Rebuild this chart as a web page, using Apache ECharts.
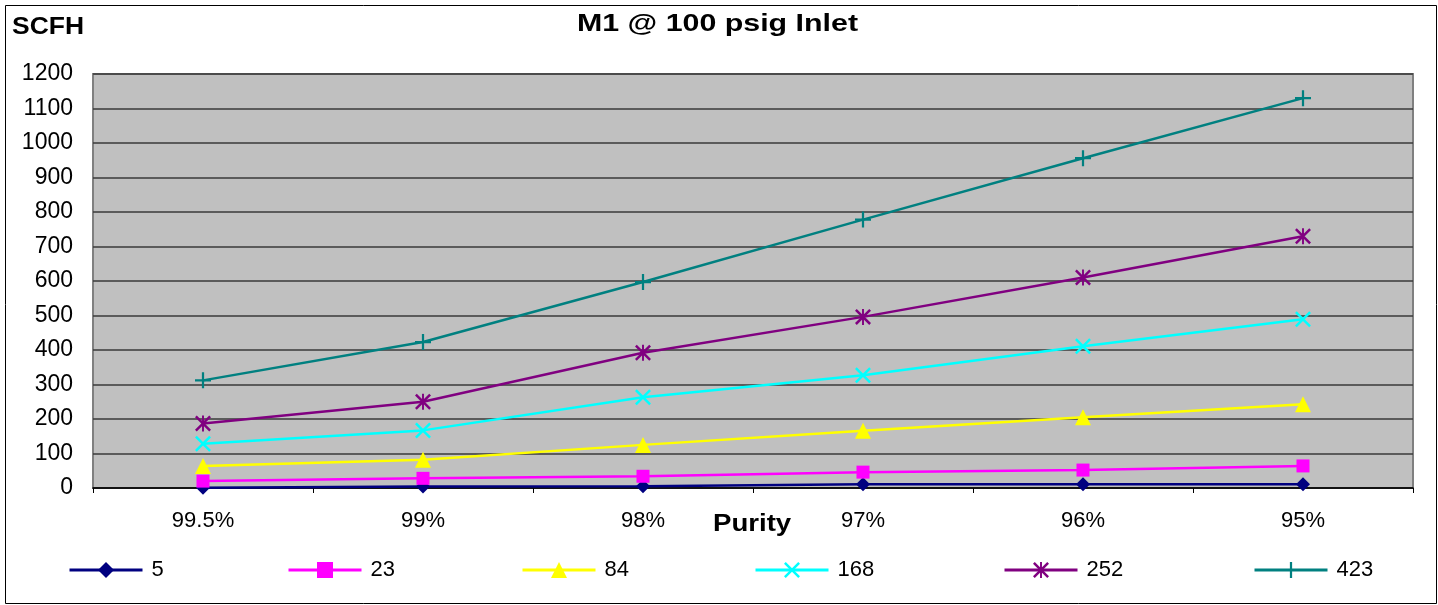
<!DOCTYPE html>
<html>
<head>
<meta charset="utf-8">
<script src="https://cdn.jsdelivr.net/npm/echarts@6/dist/echarts.min.js"></script>
<style>
html,body{margin:0;padding:0;background:#fff;}
#chart{width:1438px;height:605px;}
</style>
</head>
<body>
<div id="chart"></div>
<script>
const categories = ['99.5%', '99%', '98%', '97%', '96%', '95%'];
const seriesNames = ['5', '23', '84', '168', '252', '423'];
const s5   = [1, 4, 5, 11, 11, 11];
const s23  = [20, 28, 34, 46, 52, 64];
const s84  = [64, 82, 125, 166, 205, 243];
const s168 = [128, 167, 263, 327, 411, 489];
const s252 = [187, 250, 392, 496, 610, 730];
const s423 = [312, 423, 597, 778, 956, 1130];
const yTicks = {min: 0, max: 1200, interval: 100};

const seriesData = [s5, s23, s84, s168, s252, s423];
const colors = ['#000080', '#FF00FF', '#FFFF00', '#00FFFF', '#800080', '#008080'];
const X_PATH = 'M0,1.1 L1.1,0 L10,8.9 L8.9,10 Z M8.9,0 L10,1.1 L1.1,10 L0,8.9 Z';
const PLUS_PATH = 'M0,4.3 H10 V5.7 H0 Z M4.3,0 H5.7 V10 H4.3 Z';
const STAR_PATH = X_PATH + ' M4.4,0 H5.6 V10 H4.4 Z';
const symbols = ['diamond', 'rect', 'triangle', 'path://' + X_PATH, 'path://' + STAR_PATH, 'path://' + PLUS_PATH];
const symbolSizes = [14, 13, 16, 16, 16, 16];
const legendLefts = [68, 287, 521, 754, 1003, 1253];
const FONT = '"Liberation Sans", Arial, sans-serif';

const chart = echarts.init(document.getElementById('chart'));
chart.setOption({
  animation: false,
  backgroundColor: '#ffffff',
  textStyle: {fontFamily: FONT},
  grid: {
    left: 93, right: 25, top: 74, bottom: 117,
    show: true, backgroundColor: '#C0C0C0', borderColor: '#808080', borderWidth: 2
  },
  legend: seriesNames.map((n, i) => ({
    data: [n],
    left: legendLefts[i],
    top: 559,
    padding: 0,
    itemWidth: 73,
    itemHeight: 20,
    itemGap: 0,
    lineStyle: {width: 3},
    textStyle: {fontFamily: FONT, fontSize: 22, color: '#000', padding: [0, 0, 0, 4]}
  })),
  xAxis: {
    type: 'category',
    data: categories,
    boundaryGap: true,
    axisLine: {show: true, lineStyle: {color: '#000', width: 1.5}},
    axisTick: {show: true, length: 5, lineStyle: {color: '#000'}},
    axisLabel: {fontFamily: FONT, fontSize: 22, color: '#000', margin: 22},
    splitLine: {show: false}
  },
  yAxis: {
    type: 'value',
    min: yTicks.min, max: yTicks.max, interval: yTicks.interval,
    axisLine: {show: false},
    axisTick: {show: false},
    axisLabel: {fontFamily: FONT, fontSize: 23, color: '#000', margin: 20, formatter: v => String(v)},
    splitLine: {show: true, lineStyle: {color: '#3a3a3a', width: 1.5}}
  },
  series: seriesNames.map((n, i) => ({
    name: n,
    type: 'line',
    data: seriesData[i],
    symbol: symbols[i],
    symbolSize: symbolSizes[i],
    showAllSymbol: true,
    clip: false,
    z: 2 + i,
    lineStyle: {color: colors[i], width: 2.5},
    itemStyle: {color: colors[i], borderWidth: 0}
  })),
  graphic: [
    {type: 'rect', left: 3, top: 3, shape: {width: 1431, height: 598}, style: {fill: 'none', stroke: '#000', lineWidth: 1}, silent: true, z: -1},
    {type: 'text', x: 577, y: 25, scaleX: 1.32, style: {text: 'M1 @ 100 psig Inlet', fontFamily: FONT, fontSize: 23, fontWeight: 'bold', fill: '#000', textVerticalAlign: 'middle', verticalAlign: 'middle'}},
    {type: 'text', x: 12, y: 28, scaleX: 1.15, style: {text: 'SCFH', fontFamily: FONT, fontSize: 23, fontWeight: 'bold', fill: '#000', textVerticalAlign: 'middle', verticalAlign: 'middle'}},
    {type: 'text', x: 713, y: 525, scaleX: 1.2, style: {text: 'Purity', fontFamily: FONT, fontSize: 23, fontWeight: 'bold', fill: '#000', textVerticalAlign: 'middle', verticalAlign: 'middle'}}
  ]
});
</script>
</body>
</html>
